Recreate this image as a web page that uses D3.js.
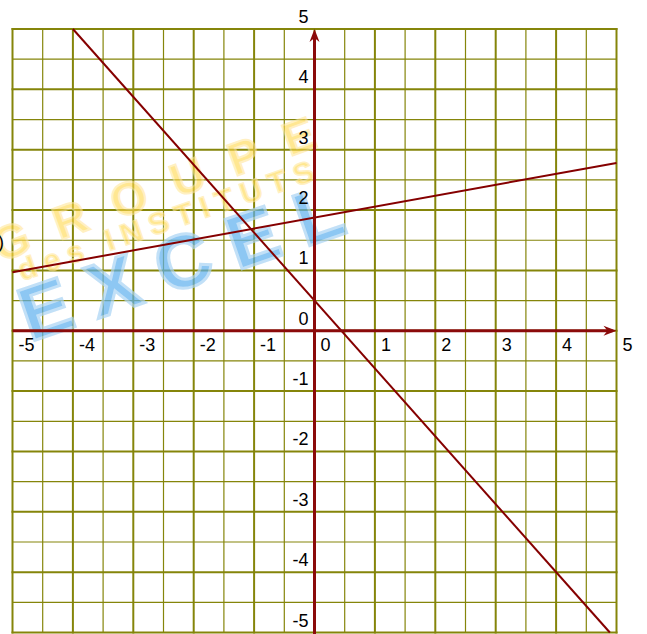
<!DOCTYPE html>
<html>
<head>
<meta charset="utf-8">
<script src="https://cdn.jsdelivr.net/npm/d3@7"></script>
<style>
  html, body { margin: 0; padding: 0; background: #fff; }
  svg { display: block; font-family: "Liberation Sans", Arial, sans-serif; }
</style>
</head>
<body>
<div id="chart"></div>
<script>
// Data
var xTicks = [-5, -4, -3, -2, -1, 0, 1, 2, 3, 4, 5];
var yTicks = [-5, -4, -3, -2, -1, 0, 1, 2, 3, 4, 5];
var minorTicks = d3.range(-4.5, 5, 1);   // half-unit lines

// the two straight lines (end points in graph units)
var lineSteep = [{x: -4, y: 5}, {x: 4.89, y: -5}];
var lineFlat = [{x: -5, y: 0.97}, {x: 5, y: 2.78}];

var svgWidth = 647;
var svgHeight = 634;

var svg = d3.select("#chart")
    .append("svg")
    .attr("width", svgWidth)
    .attr("height", svgHeight);

var xScale = d3.scaleLinear().domain([-5, 5]).range([12.5, 616.5]);
var yScale = d3.scaleLinear().domain([-5, 5]).range([632.5, 29]);

var gridColor = "#85850a";
var axisColor = "#8b0b0b";

// minor grid
var grid = svg.append("g");
grid.selectAll(".vminor").data(minorTicks).enter().append("line")
    .attr("x1", d => xScale(d)).attr("x2", d => xScale(d))
    .attr("y1", yScale(5)).attr("y2", yScale(-5))
    .attr("stroke", gridColor).attr("stroke-width", 1.2);
grid.selectAll(".hminor").data(minorTicks).enter().append("line")
    .attr("y1", d => yScale(d)).attr("y2", d => yScale(d))
    .attr("x1", xScale(-5)).attr("x2", xScale(5))
    .attr("stroke", gridColor).attr("stroke-width", 1.2);

// major grid
grid.selectAll(".vmajor").data(xTicks).enter().append("line")
    .attr("x1", d => xScale(d)).attr("x2", d => xScale(d))
    .attr("y1", yScale(5) - 1).attr("y2", yScale(-5) + 1)
    .attr("stroke", gridColor).attr("stroke-width", 2);
grid.selectAll(".hmajor").data(yTicks).enter().append("line")
    .attr("y1", d => yScale(d)).attr("y2", d => yScale(d))
    .attr("x1", xScale(-5) - 1).attr("x2", xScale(5) + 1)
    .attr("stroke", gridColor).attr("stroke-width", 2);

// watermark
var wm = svg.append("g").style("pointer-events", "none");
wm.append("text")
    .attr("transform", "translate(0,262) rotate(-20)")
    .attr("font-size", 46).attr("font-weight", "bold")
    .attr("letter-spacing", 28)
    .attr("fill", "#ffd84a").attr("opacity", 0.6)
    .attr("stroke", "#ffe79a").attr("stroke-width", 2)
    .text("GROUPE");
wm.append("text")
    .attr("transform", "translate(22,281) rotate(-19)")
    .attr("font-size", 30).attr("font-weight", "bold")
    .attr("letter-spacing", 8)
    .attr("fill", "#ffd84a").attr("opacity", 0.6)
    .attr("stroke", "#ffe79a").attr("stroke-width", 1.5)
    .text("des INSTITUTS");
wm.append("text")
    .attr("transform", "translate(30,342) rotate(-19)")
    .attr("font-size", 76).attr("font-weight", "bold")
    .attr("letter-spacing", 21)
    .attr("fill", "#5eb0ee").attr("opacity", 0.7)
    .attr("stroke", "#a9d4f5").attr("stroke-width", 3)
    .text("EXCEL");

// straight lines
var lineGen = d3.line().x(d => xScale(d.x)).y(d => yScale(d.y));
svg.append("path").datum(lineSteep)
    .attr("d", lineGen).attr("fill", "none")
    .attr("stroke", "#850000").attr("stroke-width", 2);
svg.append("path").datum(lineFlat)
    .attr("d", lineGen).attr("fill", "none")
    .attr("stroke", "#850000").attr("stroke-width", 2);

// axes with arrow heads
var ox = xScale(0), oy = yScale(0);
svg.append("line")
    .attr("x1", xScale(-5)).attr("x2", xScale(5) - 4)
    .attr("y1", oy).attr("y2", oy)
    .attr("stroke", axisColor).attr("stroke-width", 3);
svg.append("line")
    .attr("x1", ox).attr("x2", ox)
    .attr("y1", yScale(-5) + 2).attr("y2", yScale(5) + 4)
    .attr("stroke", axisColor).attr("stroke-width", 3);

var xt = xScale(5), yt = yScale(5);
svg.append("path")
    .attr("d", `M${xt},${oy} L${xt - 13},${oy - 5} L${xt - 9},${oy} L${xt - 13},${oy + 5} Z`)
    .attr("fill", axisColor);
svg.append("path")
    .attr("d", `M${ox},${yt} L${ox - 5},${yt + 13} L${ox},${yt + 9} L${ox + 5},${yt + 13} Z`)
    .attr("fill", axisColor);

// tick labels
svg.selectAll(".xlab").data(xTicks).enter().append("text")
    .attr("x", d => xScale(d) + 6)
    .attr("y", oy + 20)
    .attr("font-size", 18)
    .attr("fill", "#000")
    .text(d => d);
svg.selectAll(".ylab").data(yTicks).enter().append("text")
    .attr("x", ox - 6)
    .attr("y", d => yScale(d) - 6)
    .attr("text-anchor", "end")
    .attr("font-size", 18)
    .attr("fill", "#000")
    .text(d => d);

// cut-off label at the left edge
svg.append("text")
    .attr("x", -2).attr("y", 248)
    .attr("font-size", 18)
    .text(")");
</script>
</body>
</html>
